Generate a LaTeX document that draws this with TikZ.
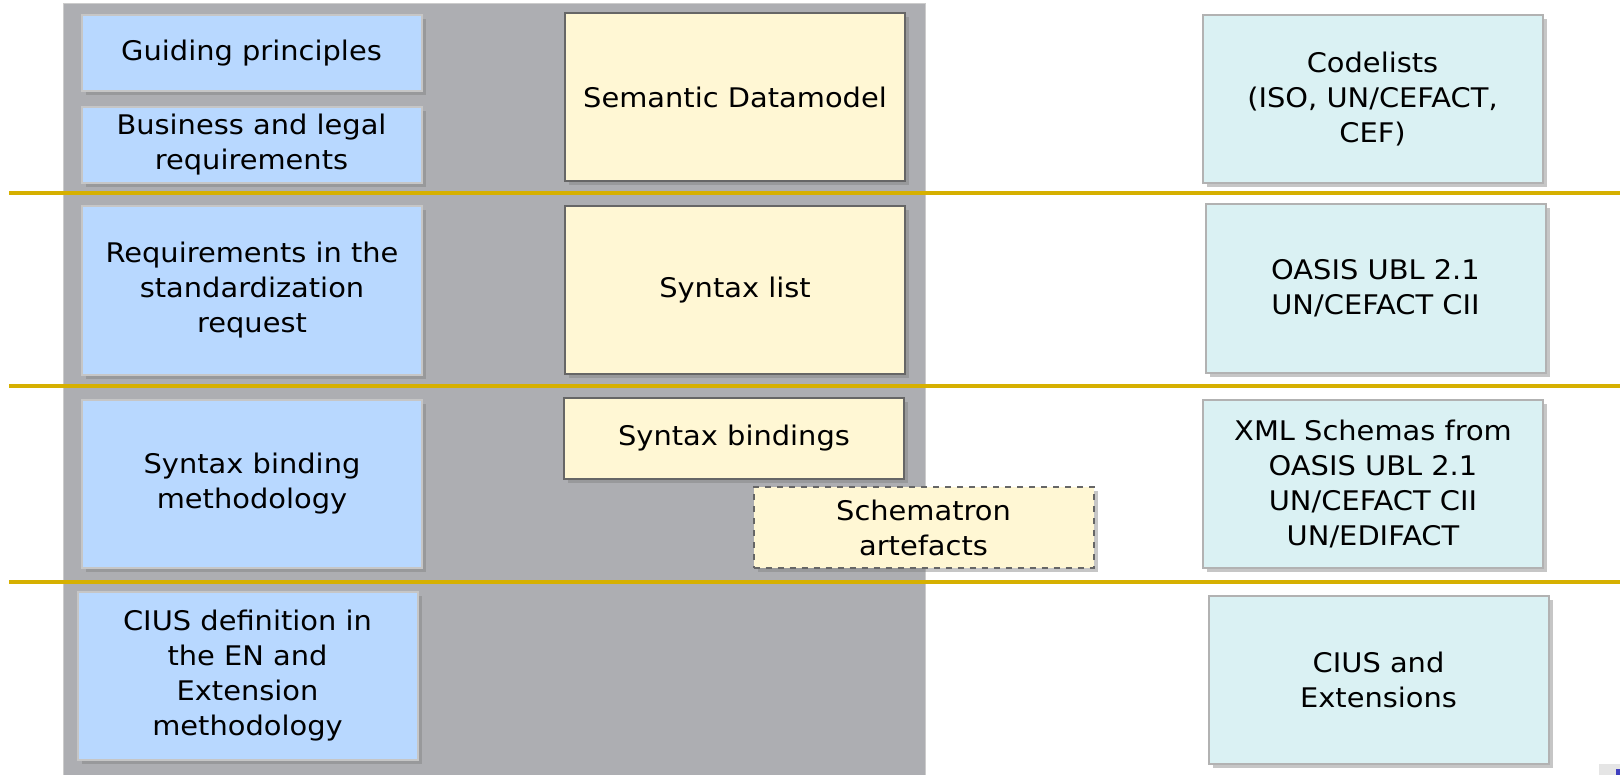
\documentclass[tikz,border=0pt]{standalone}
\usepackage{fontspec}
\setmainfont{DejaVu Sans}[FakeStretch=1.07]
\usetikzlibrary{shadows}
\definecolor{panelgray}{RGB}{173,174,178}
\definecolor{rulegold}{RGB}{214,176,0}
\definecolor{reqblue}{RGB}{184,216,255}
\definecolor{semyellow}{RGB}{255,247,212}
\definecolor{stdcyan}{RGB}{218,241,243}
\begin{document}
\begin{tikzpicture}
  [x=0.5pt,y=-0.5pt,every node/.style={rectangle,align=center,inner sep=0pt,
   minimum width=170pt,font=\fontsize{13.5}{17.5}\selectfont,
   drop shadow={shadow xshift=2pt,shadow yshift=-2pt,opacity=.45}}]
  \tikzstyle{reqbox} = [fill=reqblue,draw=gray!45,line width=1pt]
  \tikzstyle{semanticbox} = [fill=semyellow,draw=black!60,line width=1pt]
  \tikzstyle{stdbox} = [fill=stdcyan,draw=gray!60,line width=1pt]
  \tikzstyle{rowh} = [minimum height=84pt]
  \useasboundingbox (0,0) rectangle (1620,775);
  % background panel
  \fill[panelgray] (63,3) rectangle (925,775);
  \draw[gray!40] (63,775) -- (63,3) -- (925,3) -- (925,775);
  % row rules
  \foreach \y in {193,386,582}
    \draw[rulegold,line width=2pt] (9,\y) -- (1620,\y);
  % left column
  \node[reqbox,minimum height=38pt] (gp)  at (251.5,53)  {Guiding principles};
  \node[reqbox,minimum height=38pt] (blr) at (251.5,145) {Business and legal\\requirements};
  \node[reqbox,rowh] (req)  at (252,290.5) {Requirements in the\\standardization\\request};
  \node[reqbox,rowh] (sbm)  at (252,483.5) {Syntax binding\\methodology};
  \node[reqbox,rowh] (cius) at (247.5,676) {CIUS definition in\\the EN and\\Extension\\methodology};
  % middle column
  \node[semanticbox,rowh] (sdm) at (735,97.5) {Semantic Datamodel};
  \node[semanticbox,rowh] (sl)  at (735,290)  {Syntax list};
  \node[semanticbox,minimum height=40.5pt] (sb)  at (734,438.5) {Syntax bindings};
  \node[semanticbox,dashed,minimum height=40.5pt] (sch) at (923.5,527.5) {Schematron\\artefacts};
  % right column
  \node[stdbox,rowh] (cl)    at (1372.5,99.5)  {Codelists\\(ISO, UN/CEFACT,\\CEF)};
  \node[stdbox,rowh] (oasis) at (1375.5,288.5) {OASIS UBL 2.1\\UN/CEFACT CII};
  \node[stdbox,rowh] (xml)   at (1373,483.5)   {XML Schemas from\\OASIS UBL 2.1\\UN/CEFACT CII\\UN/EDIFACT};
  \node[stdbox,rowh] (ext)   at (1378.5,679.5) {CIUS and\\Extensions};
  % corner of a logo, cut off
  \fill[gray!20] (1599,764) rectangle (1620,775);
  \fill[blue!50!gray] (1616,769) rectangle (1620,775);
\end{tikzpicture}
\end{document}
